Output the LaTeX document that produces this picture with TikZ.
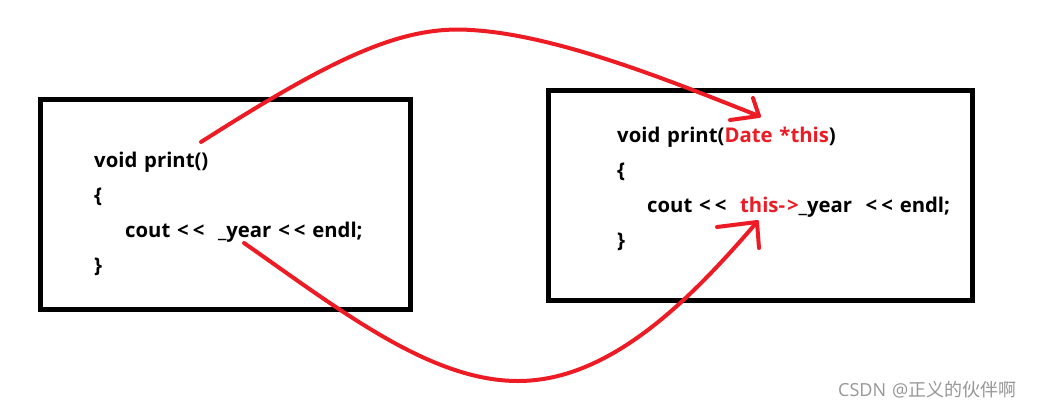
\documentclass[tikz,border=0pt]{standalone}
\usepackage{fontspec}
\setmainfont{Open Sans}[Ligatures=NoCommon,WordSpace=1.3]
\newfontfamily\cjk{Noto Sans CJK SC}
\definecolor{pred}{RGB}{237,28,36}
\definecolor{wm}{RGB}{150,150,150}
\newcommand{\shl}{\mbox{<\kern4pt<}}
\begin{document}
\begin{tikzpicture}[x=1pt,y=-1pt,
  box/.style={draw=black,line width=5pt,outer sep=0pt,inner sep=0pt,anchor=north west},
  code/.style={anchor=base west,inner sep=0pt,font=\fontsize{20.3}{20}\selectfont\bfseries},
  redline/.style={draw=pred,line width=4pt,line cap=round,line join=round}]
\useasboundingbox (0,0) rectangle (1043,407);
% boxes
\node[box,minimum width=370pt,minimum height=210.5pt] (boxL) at (40.5,99) {};
\node[box,minimum width=424pt,minimum height=210pt] (boxR) at (548,90.5) {};
% left code
\node[code] (l1) at (94,167) {void print()};
\node[code] (l2) at (94,202) {\{};
\node[code] (l3) at (125,237) {cout \shl\ \ \_year \shl\ endl;};
\node[code] (l4) at (94,272) {\}};
% right code
\node[code] (r1) at (617,142) {void print(\textcolor{pred}{Date *this})};
\node[code] (r2) at (617,177) {\{};
\node[code] (r3) at (647,212) {cout \shl\ \ \textcolor{pred}{this-\kern2pt>}\_year\ \ \shl\ endl;};
\node[code] (r4) at (617,247) {\}};
% arrow 1
\coordinate (a1s) at (201,142);
\coordinate (a1p) at (471,30);
\coordinate (a1t) at (759,116);
\coordinate (a1b1) at (730,120);
\coordinate (a1b2) at (753,98);
\draw[redline] (a1s) .. controls (330,60) and (400,25) .. (a1p) .. controls (560,35) and (680,85) .. (a1t);
\draw[redline] (a1b1) -- (a1t) -- (a1b2);
% arrow 2
\coordinate (a2s) at (244,243);
\coordinate (a2p) at (518,381);
\coordinate (a2t) at (757,222);
\coordinate (a2b1) at (717,227);
\coordinate (a2b2) at (759,248);
\draw[redline] (a2s) .. controls (340,310) and (430,381) .. (a2p) .. controls (610,381) and (690,300) .. (a2t);
\draw[redline] (a2b1) -- (a2t) -- (a2b2);
% watermark
\node[anchor=base west,inner sep=0pt,text=wm,font=\fontsize{18}{18}\selectfont] (wm) at (838,396) {CSDN @{\cjk 正义的伙伴啊}};
\end{tikzpicture}
\end{document}
